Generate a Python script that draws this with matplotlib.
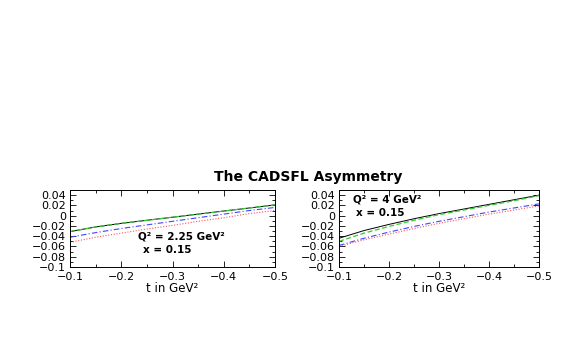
import matplotlib
matplotlib.use("Agg")
import matplotlib.pyplot as plt
from matplotlib.ticker import MultipleLocator, FixedLocator, FixedFormatter

plt.rcParams['font.family'] = ['DejaVu Sans']

t = [-0.1, -0.15, -0.2, -0.25, -0.3, -0.35, -0.4, -0.45, -0.5]

# Left panel: Q^2 = 2.25 GeV^2, x = 0.15
left_black = [-0.031, -0.022, -0.015, -0.009, -0.003, 0.003, 0.009, 0.015, 0.021]
left_green = [-0.031, -0.022, -0.015, -0.009, -0.003, 0.003, 0.009, 0.015, 0.021]
left_blue = [-0.042, -0.033, -0.025, -0.018, -0.011, -0.004, 0.003, 0.010, 0.016]
left_red = [-0.052, -0.042, -0.034, -0.026, -0.019, -0.011, -0.004, 0.004, 0.010]

# Right panel: Q^2 = 4 GeV^2, x = 0.15
right_black = [-0.044, -0.029, -0.017, -0.006, 0.004, 0.013, 0.022, 0.031, 0.040]
right_green = [-0.050, -0.034, -0.021, -0.009, 0.002, 0.011, 0.020, 0.029, 0.039]
right_blue = [-0.058, -0.044, -0.032, -0.021, -0.011, -0.002, 0.007, 0.015, 0.023]
right_red = [-0.060, -0.047, -0.036, -0.025, -0.015, -0.006, 0.003, 0.011, 0.019]

yticks = [0.04, 0.02, 0.0, -0.02, -0.04, -0.06, -0.08, -0.1]
ylabels = ['0.04', '0.02', '0', '\u22120.02', '\u22120.04', '\u22120.06', '\u22120.08', '\u22120.1']
xticks = [-0.1, -0.2, -0.3, -0.4, -0.5]
xlabels = ['\u22120.1', '\u22120.2', '\u22120.3', '\u22120.4', '\u22120.5']

fig = plt.figure(figsize=(5.72, 3.54), dpi=100)
W, H = 572, 354

def make_ax(x0, x1, y0, y1):
    return fig.add_axes([x0 / W, 1 - y1 / H, (x1 - x0) / W, (y1 - y0) / H])

axL = make_ax(70, 275, 190, 267)
axR = make_ax(339, 539, 190, 267)

for ax, (bk, gr, bl, rd) in [(axL, (left_black, left_green, left_blue, left_red)),
                             (axR, (right_black, right_green, right_blue, right_red))]:
    ax.plot(t, bk, color='black', lw=0.7, ls='-')
    ax.plot(t, gr, color='#33cc33', lw=0.9, ls=(0, (4, 2)))
    ax.plot(t, bl, color='#4444ff', lw=0.8, ls=(0, (5, 2, 1, 2)))
    ax.plot(t, rd, color='#ff5555', lw=0.8, ls=(0, (1, 1.5)))
    ax.set_xlim(-0.1, -0.5)
    ax.set_ylim(-0.1, 0.05)
    ax.yaxis.set_major_locator(FixedLocator(yticks))
    ax.yaxis.set_major_formatter(FixedFormatter(ylabels))
    ax.yaxis.set_minor_locator(MultipleLocator(0.01))
    ax.xaxis.set_major_locator(FixedLocator(xticks))
    ax.xaxis.set_major_formatter(FixedFormatter(xlabels))
    ax.xaxis.set_minor_locator(MultipleLocator(0.05))
    ax.tick_params(which='both', direction='in', top=True, right=True,
                   labelsize=8, width=0.6)
    ax.tick_params(axis='y', pad=3)
    ax.tick_params(axis='x', pad=3.5)
    ax.tick_params(which='major', length=4)
    ax.tick_params(which='minor', length=2)
    for s in ax.spines.values():
        s.set_linewidth(0.7)
    ax.set_xlabel('t in GeV\u00b2', fontsize=8.5, labelpad=0)

axL.text(0.33, 0.39, 'Q\u00b2 = 2.25 GeV\u00b2', transform=axL.transAxes,
         fontsize=7.5, fontweight='bold', va='center', ha='left')
axL.text(0.355, 0.215, 'x = 0.15', transform=axL.transAxes,
         fontsize=7.5, fontweight='bold', va='center', ha='left')
axR.text(0.07, 0.875, 'Q\u00b2 = 4 GeV\u00b2', transform=axR.transAxes,
         fontsize=7.5, fontweight='bold', va='center', ha='left')
axR.text(0.085, 0.70, 'x = 0.15', transform=axR.transAxes,
         fontsize=7.5, fontweight='bold', va='center', ha='left')

fig.text(308 / W, 1 - 177 / H, 'The CADSFL Asymmetry', fontsize=10,
         fontweight='bold', ha='center', va='center')

fig.savefig('out.png', dpi=100)
